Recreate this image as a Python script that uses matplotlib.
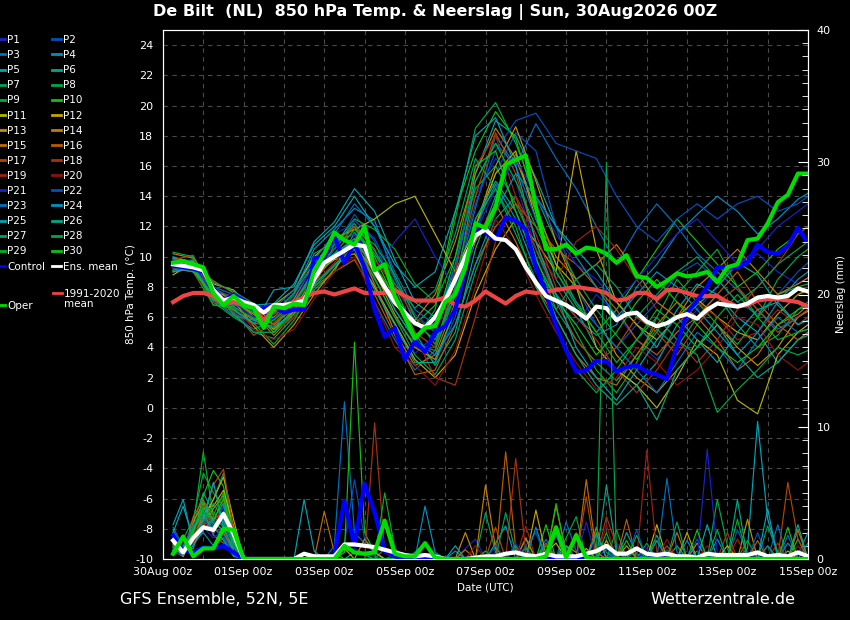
import numpy as np
import matplotlib
matplotlib.use('Agg')
import matplotlib.pyplot as plt
from matplotlib.lines import Line2D
from matplotlib.ticker import MultipleLocator

plt.rcParams['axes.unicode_minus'] = False

# run 30Aug2026 00Z, 6-hourly steps +6h .. +384h
hours = np.arange(6, 385, 6)
days = hours / 24.0
p_hours = np.append(np.arange(6, 379, 12), 384)
p_days = p_hours / 24.0

x_ticks = [0, 2, 4, 6, 8, 10, 12, 14, 16]
x_labels = ['30Aug 00z', '01Sep 00z', '03Sep 00z', '05Sep 00z', '07Sep 00z',
            '09Sep 00z', '11Sep 00z', '13Sep 00z', '15Sep 00z']

# 850 hPa temperature (C)
oper_t = [9.6, 9.7, 9.5, 9.3, 7.6, 6.8, 7.4, 6.8,
          6.6, 5.3, 6.7, 6.6, 6.9, 6.8, 9.1, 10.2,
          11.6, 11.1, 10.8, 12.0, 9.1, 9.5, 7.4, 6.0,
          4.6, 5.3, 5.4, 7.0, 7.5, 9.3, 12.2, 11.9,
          13.3, 16.1, 16.4, 16.7, 13.3, 10.5, 10.5, 10.8,
          10.2, 10.6, 10.5, 10.2, 9.6, 10.1, 8.7, 8.6,
          8.0, 8.4, 8.9, 8.7, 8.8, 9.0, 8.3, 9.3,
          9.5, 11.1, 11.2, 12.2, 13.6, 14.1, 15.5, 15.5]
control_t = [9.4, 9.3, 9.2, 9.0, 7.9, 7.1, 7.5, 7.1,
             6.5, 6.6, 6.8, 6.3, 6.5, 6.5, 9.9, 9.9,
             11.4, 9.6, 10.9, 9.3, 6.5, 4.7, 5.3, 3.2,
             4.4, 3.7, 5.0, 5.4, 6.5, 9.1, 11.8, 11.6,
             11.1, 12.6, 12.4, 11.8, 9.3, 7.6, 5.4, 3.8,
             2.4, 2.5, 3.1, 3.1, 2.4, 2.7, 2.8, 2.4,
             2.2, 1.9, 4.1, 6.3, 7.1, 8.0, 9.3, 9.3,
             9.3, 9.6, 10.8, 10.3, 10.2, 10.7, 11.9, 10.9]
ens_mean_t = [9.5, 9.4, 9.3, 9.1, 7.8, 7.1, 7.3, 7.0,
              6.8, 6.3, 6.8, 6.8, 6.9, 7.1, 8.5, 9.6,
              10.0, 10.4, 10.8, 10.7, 9.1, 8.0, 7.0, 6.3,
              5.6, 5.3, 6.0, 7.1, 8.5, 10.0, 11.4, 11.8,
              11.2, 11.1, 10.5, 9.3, 8.3, 7.4, 7.1, 6.8,
              6.4, 5.9, 6.7, 6.6, 5.8, 6.2, 6.3, 5.7,
              5.4, 5.6, 6.0, 6.2, 5.9, 6.5, 6.9, 6.8,
              6.7, 6.9, 7.3, 7.4, 7.3, 7.4, 7.9, 7.7]
clim_t = [7.0, 7.4, 7.6, 7.6, 7.4, 6.9, 7.0, 6.9,
          6.6, 5.8, 6.5, 6.8, 7.0, 7.3, 7.6, 7.7,
          7.5, 7.7, 7.9, 7.6, 7.6, 7.6, 7.8, 7.4,
          7.1, 7.1, 7.1, 7.3, 6.8, 6.7, 7.1, 7.7,
          7.3, 6.9, 7.4, 7.7, 7.6, 7.7, 7.8, 7.9,
          8.0, 7.9, 7.8, 7.6, 7.1, 7.2, 7.6, 7.6,
          7.2, 7.8, 7.8, 7.6, 7.4, 7.4, 7.4, 7.0,
          6.7, 6.8, 7.1, 7.2, 7.2, 7.1, 7.0, 6.7]

# precipitation (mm)
oper_p = [0.4, 1.7, 0.2, 0.8, 0.8, 2.3, 2.2, 0,
          0, 0, 0, 0, 0, 0, 0, 0,
          0, 1.0, 0.5, 0.4, 0.5, 2.9, 0.4, 0.2,
          0.2, 1.2, 0.1, 0, 0, 0, 0, 0,
          0, 0, 0, 0, 0, 0.2, 2.4, 0.1,
          1.8, 0.1, 0, 0, 0, 0, 0, 0,
          0, 0, 0, 0, 0, 0, 0, 0,
          0, 0, 0, 0, 0, 0, 0, 0]
control_p = [1.8, 0.6, 0.5, 0.9, 0.8, 1.0, 0.5, 0,
             0, 0, 0, 0, 0, 0, 0, 0,
             0.3, 4.4, 1.0, 5.7, 3.5, 0.6, 0.2, 0,
             0, 0, 0, 0, 0, 0, 0, 0,
             0, 0, 0, 0, 0, 0, 0, 0,
             0, 0, 0, 0, 0, 0, 0, 0,
             0.2, 0, 0, 0, 0, 0, 0, 0,
             0, 0, 0, 0, 0, 0, 0, 0]
ens_mean_p = [1.4, 0.5, 1.6, 2.4, 2.2, 3.4, 1.9, 0.0,
              0, 0, 0, 0, 0, 0.4, 0.2, 0.2,
              0.2, 1.1, 1.1, 1.0, 0.9, 0.7, 0.5, 0.3,
              0.2, 0.3, 0.2, 0, 0, 0, 0.1, 0.2,
              0.2, 0.4, 0.5, 0.3, 0.2, 0.4, 0.2, 0.2,
              0.2, 0.4, 0.6, 1.0, 0.4, 0.4, 0.8, 0.4,
              0.3, 0.4, 0.2, 0.2, 0.1, 0.4, 0.3, 0.3,
              0.3, 0.3, 0.5, 0.2, 0.3, 0.2, 0.5, 0.2]

# perturbation temperatures, P1..P30 (12-hourly)
pert_t = [
    [9.6, 9.4, 7.2, 6.8, 6.0, 5.6, 6.8, 9.8, 11.5, 12.2, 8.0, 5.0, 3.6, 4.8, 9.5, 14.0, 16.5, 15.0, 10.5, 7.0, 5.5, 7.5, 6.2, 4.5, 3.2, 5.0, 6.5, 8.0, 9.5, 10.2, 9.0, 8.2, 8.6],
    [9.8, 9.2, 7.6, 7.0, 6.6, 6.0, 7.2, 8.6, 10.5, 12.8, 11.0, 7.5, 4.2, 3.0, 6.0, 11.5, 15.5, 18.2, 17.0, 12.0, 8.0, 5.5, 4.0, 5.5, 7.0, 8.8, 9.6, 8.5, 7.0, 6.2, 7.5, 9.0, 9.6],
    [9.2, 9.0, 8.0, 7.5, 5.8, 5.2, 6.5, 8.2, 9.5, 10.5, 7.0, 4.5, 2.5, 3.8, 8.0, 13.2, 18.0, 16.0, 18.8, 16.5, 14.5, 12.0, 9.5, 11.8, 13.5, 12.0, 10.2, 9.0, 7.8, 6.5, 5.2, 6.0, 6.5],
    [10.0, 9.6, 7.4, 7.2, 6.4, 6.2, 7.6, 10.5, 11.8, 13.2, 12.4, 8.6, 5.6, 4.5, 7.4, 12.0, 14.8, 12.5, 9.0, 7.5, 6.0, 4.8, 5.5, 8.0, 9.5, 11.5, 12.8, 14.0, 13.0, 11.5, 12.5, 13.8, 14.2],
    [9.0, 9.4, 7.0, 6.5, 5.5, 7.8, 8.0, 11.0, 12.3, 14.5, 13.0, 9.8, 7.0, 6.0, 9.0, 15.5, 19.0, 18.0, 15.2, 12.0, 10.5, 9.0, 7.0, 5.5, 4.0, 6.5, 8.2, 7.5, 6.0, 5.0, 3.0, 4.5, 5.0],
    [9.4, 9.1, 7.8, 6.2, 5.0, 4.6, 6.0, 7.8, 9.0, 11.6, 10.2, 8.0, 5.0, 2.8, 5.0, 10.5, 14.0, 16.8, 13.0, 8.5, 6.5, 4.0, 2.5, 1.5, 3.0, 5.5, 6.8, 8.0, 9.6, 8.8, 6.8, 5.5, 6.0],
    [9.7, 9.5, 7.5, 7.0, 6.8, 6.5, 7.0, 9.0, 10.2, 11.0, 8.5, 6.0, 3.5, 2.2, 4.5, 9.0, 12.5, 14.0, 10.0, 6.5, 4.5, 3.0, 1.8, 3.5, 5.2, 4.0, 6.0, 7.5, 5.5, 4.0, 4.8, 6.5, 7.0],
    [9.1, 9.8, 7.0, 6.0, 5.2, 5.8, 7.5, 10.2, 11.0, 12.0, 9.5, 6.5, 4.5, 6.5, 12.5, 18.5, 20.2, 17.5, 14.0, 11.0, 8.5, 6.5, 4.8, 3.2, 5.0, 7.5, 9.0, 10.5, 8.0, 6.0, 8.5, 10.0, 10.5],
    [9.3, 9.0, 6.8, 6.6, 5.6, 4.2, 5.8, 8.0, 10.8, 12.5, 11.8, 10.5, 8.2, 7.0, 10.0, 14.5, 16.0, 13.5, 10.5, 7.5, 5.0, 2.5, 1.0, 3.0, 6.0, 8.5, 7.0, 5.5, 4.2, 6.0, 7.5, 8.0, 8.2],
    [9.5, 9.2, 7.2, 7.0, 6.2, 5.5, 6.8, 9.2, 10.5, 12.0, 10.0, 7.2, 5.5, 6.8, 13.0, 17.0, 19.6, 17.8, 13.5, 9.5, 7.0, 5.0, 6.5, 8.5, 10.5, 12.5, 11.0, 9.5, 8.0, 9.0, 10.5, 11.5, 12.0],
    [8.8, 9.6, 8.2, 7.8, 6.5, 6.8, 7.8, 10.0, 11.2, 11.8, 12.5, 13.5, 14.0, 11.5, 9.0, 12.0, 15.5, 17.0, 12.5, 9.5, 8.0, 4.0, 2.5, 1.5, 0.0, 2.0, 4.5, 3.5, 0.5, -0.4, 3.5, 5.0, 5.5],
    [9.9, 9.7, 7.6, 7.4, 6.0, 5.2, 6.4, 8.8, 9.8, 10.2, 8.0, 5.6, 3.2, 2.0, 3.5, 7.5, 10.5, 12.5, 11.0, 9.0, 17.0, 10.5, 7.0, 5.5, 4.5, 6.0, 7.2, 6.0, 5.0, 4.5, 6.2, 7.5, 7.8],
    [9.6, 9.3, 7.8, 7.1, 5.4, 4.0, 5.5, 7.5, 9.2, 10.8, 9.0, 6.2, 4.0, 3.2, 6.5, 12.0, 16.0, 18.6, 15.0, 11.0, 8.0, 6.0, 3.5, 2.0, 1.0, 2.5, 4.0, 5.5, 4.0, 2.8, 4.0, 6.0, 6.4],
    [10.2, 9.9, 7.0, 6.7, 5.8, 6.0, 7.2, 9.6, 11.0, 11.5, 8.8, 6.8, 5.8, 7.5, 11.0, 15.5, 18.5, 16.5, 13.0, 10.0, 8.5, 9.5, 10.8, 9.0, 7.0, 6.0, 8.0, 9.2, 10.5, 9.0, 7.5, 8.2, 8.6],
    [9.0, 9.2, 7.5, 6.9, 6.2, 4.8, 6.2, 8.4, 10.0, 11.2, 8.2, 5.0, 2.8, 3.5, 7.0, 11.0, 13.5, 11.0, 8.0, 6.0, 3.5, 2.0, 1.5, 3.5, 5.5, 7.0, 6.0, 4.5, 2.5, 3.5, 5.5, 6.2, 6.8],
    [9.3, 9.5, 8.4, 7.6, 6.8, 5.5, 6.6, 8.0, 9.0, 9.8, 7.5, 4.8, 2.2, 2.5, 5.5, 9.5, 12.0, 13.5, 12.0, 10.5, 9.5, 8.0, 6.5, 4.5, 3.5, 5.0, 6.0, 7.5, 9.0, 7.0, 5.5, 4.5, 5.0],
    [9.8, 10.1, 7.3, 6.4, 4.8, 5.6, 7.0, 9.0, 10.5, 12.0, 10.5, 7.5, 5.0, 4.0, 8.5, 14.0, 18.2, 15.5, 11.0, 7.0, 4.5, 3.0, 4.0, 6.0, 5.0, 3.5, 5.5, 7.0, 8.0, 6.5, 5.0, 6.0, 6.5],
    [9.5, 9.0, 7.1, 6.3, 5.5, 6.2, 6.8, 8.8, 10.0, 10.8, 9.5, 7.0, 4.8, 2.0, 1.5, 6.0, 11.0, 14.0, 11.5, 8.0, 6.0, 4.5, 2.5, 1.0, 2.5, 4.5, 3.0, 4.5, 6.5, 8.0, 9.5, 11.5, 12.0],
    [9.2, 9.4, 7.9, 7.3, 6.6, 5.0, 6.0, 8.2, 9.6, 11.0, 9.8, 8.0, 6.0, 5.0, 9.0, 16.0, 18.0, 14.0, 10.5, 8.5, 11.0, 12.0, 10.5, 8.5, 6.5, 5.5, 7.0, 6.0, 4.5, 5.0, 6.5, 5.5, 6.0],
    [9.7, 9.2, 7.0, 6.8, 5.2, 4.5, 5.2, 7.2, 9.0, 10.0, 7.0, 4.0, 2.8, 1.5, 3.8, 8.0, 12.5, 10.5, 7.5, 5.0, 3.0, 1.2, 2.0, 4.0, 3.0, 1.5, 2.5, 4.0, 6.0, 5.5, 3.5, 2.5, 3.0],
    [9.4, 9.6, 7.4, 7.0, 6.0, 5.9, 7.4, 9.4, 10.8, 11.5, 9.0, 11.0, 12.5, 10.0, 8.0, 11.5, 14.5, 16.5, 14.0, 11.5, 9.5, 8.5, 7.0, 8.5, 10.0, 11.5, 12.5, 11.0, 9.5, 10.5, 12.0, 13.0, 13.5],
    [9.1, 9.3, 7.7, 6.5, 5.0, 5.0, 6.6, 8.6, 10.5, 12.4, 11.2, 8.5, 6.2, 5.0, 8.5, 13.5, 17.0, 19.0, 19.5, 17.5, 17.0, 16.5, 14.0, 12.0, 11.0, 12.5, 13.5, 12.5, 13.5, 14.0, 13.0, 13.5, 14.0],
    [9.6, 9.8, 7.9, 7.2, 6.4, 6.6, 7.8, 9.8, 11.5, 13.5, 12.0, 9.0, 6.5, 5.5, 9.5, 15.0, 17.5, 16.0, 12.5, 9.0, 7.0, 5.5, 4.0, 2.5, 1.0, 3.0, 5.0, 4.0, 2.5, 4.5, 6.0, 5.0, 5.2],
    [9.9, 9.4, 7.2, 6.1, 5.8, 5.3, 6.9, 9.2, 10.2, 11.2, 9.2, 6.5, 4.5, 3.5, 5.5, 9.5, 13.0, 15.5, 14.0, 12.0, 10.0, 8.0, 6.0, 7.5, 9.0, 8.0, 6.5, 5.0, 3.5, 5.0, 7.0, 8.5, 9.0],
    [9.0, 9.3, 7.1, 6.8, 6.8, 6.9, 8.2, 10.8, 12.0, 14.0, 12.0, 9.5, 8.0, 9.0, 13.0, 18.0, 19.2, 16.0, 11.0, 7.5, 4.0, 2.0, 0.5, 2.5, 4.5, 6.0, 4.5, 3.0, 5.0, 6.5, 7.0, 5.5, 5.8],
    [9.3, 9.0, 7.5, 6.5, 5.6, 5.4, 6.2, 8.2, 9.4, 10.5, 7.8, 5.5, 3.0, 3.0, 6.5, 12.5, 15.0, 13.0, 9.5, 6.0, 3.5, 1.5, 0.2, 1.5, -0.8, 2.5, 4.0, 5.5, 3.5, 2.0, 3.0, 4.5, 4.8],
    [9.7, 9.6, 8.3, 7.7, 6.9, 6.3, 7.6, 9.6, 10.8, 12.2, 10.4, 8.2, 6.6, 7.8, 11.5, 16.5, 14.5, 11.5, 8.5, 6.5, 8.5, 9.5, 8.0, 6.0, 7.5, 9.0, 10.0, 8.5, 7.0, 8.0, 9.5, 10.5, 11.0],
    [10.3, 10.0, 7.8, 6.2, 5.0, 5.0, 6.3, 8.0, 9.4, 11.0, 8.6, 6.0, 4.2, 3.8, 7.5, 12.5, 14.5, 12.0, 8.0, 5.5, 2.5, 1.0, 2.5, 4.5, 6.0, 4.5, 3.5, -0.3, 1.2, 2.5, 4.0, 3.5, 3.8],
    [9.1, 9.5, 6.8, 6.7, 5.9, 5.8, 7.0, 8.8, 10.2, 11.8, 10.8, 8.8, 6.0, 4.2, 8.0, 15.0, 17.5, 15.0, 12.0, 9.0, 6.8, 5.0, 3.0, 4.5, 6.5, 5.5, 4.0, 6.0, 7.5, 6.0, 4.5, 5.0, 5.2],
    [9.5, 9.1, 7.3, 7.0, 6.3, 5.0, 6.6, 8.6, 10.0, 11.0, 9.4, 7.4, 5.5, 5.5, 10.0, 16.0, 17.0, 13.0, 9.8, 7.2, 5.5, 3.5, 5.0, 7.0, 8.5, 7.0, 5.5, 4.0, 3.0, 4.0, 5.5, 6.5, 6.8],
]

# perturbation precipitation, P1..P30 (6-hourly)
pert_p = [
    [1.0, 0.4, 1.5, 2.8, 2.0, 3.0, 1.2, 0,  0, 0, 0, 0, 0, 0, 0, 0,  0, 0.5, 0.8, 0.4, 0.2, 0, 0, 0,  0, 0, 0, 0, 0, 0.8, 1.5, 0,  0.5, 0, 0, 0, 0, 0, 0, 0.6,  0, 0, 0, 0, 1.2, 0.4, 0.3, 0,  0, 0, 0, 0.6, 0, 0, 0, 0,  0, 0, 0, 1.0, 0, 0, 0, 0],
    [0.8, 0.3, 1.0, 3.2, 1.8, 4.0, 0.5, 0,  0, 0, 0, 0, 0, 0, 0, 0,  0, 1.2, 6.0, 1.5, 0.6, 0, 0, 0,  0, 0, 0, 0, 0, 0, 0, 0,  0, 0, 0, 1.0, 2.0, 0, 0, 0,  0, 0, 0, 0.8, 0, 0, 0, 0,  0, 0.7, 0, 0, 1.5, 0.3, 0, 0,  2.2, 0.5, 0, 0, 0, 0, 0, 0],
    [1.5, 0.2, 2.2, 4.0, 3.0, 2.0, 0.6, 0,  0, 0, 0, 0, 0, 0, 0, 0,  1.0, 11.9, 2.0, 1.2, 0.5, 0, 0.3, 0,  0, 0, 0, 0, 0, 0, 0, 0,  0, 0, 0, 0, 0, 1.5, 0, 2.8,  0.6, 0, 0.5, 0, 0, 0, 0, 0,  0, 0, 0, 0, 0, 0, 0, 0,  0, 0, 0, 0, 0, 1.8, 0, 0],
    [2.2, 0.6, 1.2, 2.0, 1.0, 1.6, 0.3, 0,  0, 0, 0, 0, 0, 0, 0, 0,  0, 0, 0, 0, 0, 0.8, 0, 0,  0, 0, 0, 0, 0.6, 0, 0, 0,  0, 0, 0, 0, 0, 0, 0, 0,  0, 0, 1.8, 0.5, 0, 0, 0, 0,  0, 0, 0, 0, 0, 0, 1.5, 0,  0, 0, 0, 0, 0, 1.2, 0.3, 2.0],
    [2.6, 4.5, 1.2, 3.6, 2.5, 1.4, 0.2, 0,  0, 0, 0, 0, 0, 4.5, 0.6, 0,  0, 0, 0.5, 0.3, 0, 0, 0, 0,  0, 0, 0, 0, 0, 0, 0, 0,  1.2, 2.5, 0, 0, 0, 0, 0, 0,  0, 0, 0, 0, 0, 2.0, 0.4, 0,  0, 0, 0, 0, 0, 0, 0, 0,  0, 0.8, 10.4, 3.0, 0.5, 0, 0, 0],
    [0.6, 0.2, 2.6, 5.0, 3.5, 2.8, 1.0, 0,  0, 0, 0, 0, 0, 0, 0, 0,  0, 0, 0, 0, 0, 0, 0, 0,  0.5, 1.2, 0, 0, 0, 0, 0, 0,  0, 0, 0, 0, 0, 0, 2.0, 0,  0, 0, 0, 5.6, 0.5, 0, 0, 0,  1.8, 0, 0, 0, 0.6, 0, 0, 0,  0, 0, 0, 0, 0, 0, 0, 0],
    [1.8, 0.8, 0.8, 3.2, 4.5, 6.5, 1.5, 0,  0, 0, 0, 0, 0, 0, 0, 0,  0, 0, 0, 0, 0, 0, 0, 0,  0, 0, 0, 0, 0, 0, 0, 3.5,  0.5, 0, 0, 1.5, 0, 0, 0, 0,  0, 0, 0, 0, 0, 0, 0, 1.2,  0, 0, 0, 0, 0, 0, 0, 0,  0, 0, 0, 2.5, 0.5, 0, 0, 0],
    [1.2, 1.5, 3.0, 6.5, 5.0, 4.0, 2.0, 0,  0, 0, 0, 0, 0, 0, 0, 0,  0, 0, 0, 0, 0, 0, 0, 0,  0, 0, 0, 0, 0, 0, 0, 0,  0, 0, 0, 0, 0, 0, 0, 1.6,  3.2, 0, 0, 0, 0, 0, 0.8, 0,  0, 0, 0, 0, 0, 0, 4.5, 1.0,  0, 0, 0, 0, 0, 0, 0, 0],
    [0.4, 0.9, 2.5, 8.1, 3.2, 2.4, 0.8, 0,  0, 0, 0, 0, 0, 0, 0, 0,  0, 0, 0, 0, 0, 0, 0, 0,  0, 0, 0, 0, 0, 0, 0, 0,  0, 0, 1.0, 0, 0, 0, 0, 0,  0, 0, 0, 0, 2.2, 0, 0, 0,  0, 0, 0, 0, 0, 0, 0, 0,  0, 1.4, 0, 0, 0, 0, 0, 0],
    [0.3, 1.0, 1.8, 4.8, 6.7, 5.5, 1.8, 0,  0, 0, 0, 0, 0, 0, 0, 0,  0, 0.5, 16.4, 2.0, 0.5, 0, 0, 0,  0, 0, 0, 0, 0, 0, 0, 0.6,  0, 0, 0, 0, 0, 2.6, 0, 0,  0, 0, 0, 0, 0, 0, 0, 0,  0, 0, 1.0, 0, 0, 0, 0, 0,  0, 0, 0, 0, 0, 0, 1.5, 0],
    [0.9, 0.3, 1.4, 3.8, 4.0, 5.2, 2.5, 0,  0, 0, 0, 0, 0, 0, 0, 0,  0, 0, 0, 0, 0, 0, 0, 0,  0, 0, 0, 0, 0, 0, 0, 0,  0, 0, 0, 0, 0, 0.5, 1.2, 0,  0, 0.8, 0, 0, 0, 0, 0, 0,  2.6, 0, 0, 0, 0, 0, 0, 1.0,  0, 0, 0, 0, 0, 0, 0, 0],
    [1.1, 0.2, 2.0, 3.0, 4.5, 6.2, 3.0, 0,  0, 0, 0, 0, 0, 0.3, 0, 0,  0, 0.8, 0, 0, 0, 0, 0, 0,  0, 0, 0, 0, 0, 0, 0, 0,  0, 0, 0, 0, 3.7, 0.3, 0, 0,  0, 0, 0, 1.4, 0, 0, 0, 0,  0, 0, 0, 2.0, 0, 0, 0, 0,  0, 0, 0, 0, 0, 0.6, 0, 0],
    [1.4, 0.5, 1.0, 2.5, 3.8, 4.8, 1.2, 0,  0, 0, 0, 0, 0, 0, 0, 0,  0, 0, 0, 1.5, 0.5, 0, 0, 0,  0, 0, 0, 0, 0, 2.0, 0, 0,  0, 0, 0, 0, 0, 0, 0, 1.0,  0.5, 0, 0, 0, 0, 1.0, 0, 0,  0, 0, 0, 0, 0, 0, 0, 0,  0, 3.0, 0, 0, 0, 0, 0, 0],
    [1.3, 0.4, 2.8, 4.2, 3.0, 3.5, 0.9, 0,  0, 0, 0, 0, 0, 0, 0, 0,  0, 0, 0, 0, 0, 0, 0, 0,  0, 0, 0, 0, 0, 0, 0, 5.6,  0.8, 0, 0, 1.6, 0, 0, 0, 0,  0, 0, 2.4, 0, 0, 0, 0, 0,  0, 0, 0, 0, 1.2, 0, 0, 0,  0, 0, 0, 0, 0, 0, 0, 0],
    [1.7, 0.7, 1.6, 3.4, 2.2, 2.0, 0.5, 0,  0, 0, 0, 0, 0, 0, 0, 3.6,  0.5, 0, 0, 0, 0, 0, 0, 0,  0, 0, 0, 0, 0, 0.7, 0, 0,  0, 0, 0, 0, 0, 0, 4.0, 0.5,  0, 6.0, 0.5, 0, 0, 0, 0, 0,  0, 0, 2.0, 0, 0, 0, 0, 0,  0, 0, 0, 0, 0, 0, 2.2, 0],
    [2.0, 0.3, 3.2, 4.5, 1.8, 1.2, 0.4, 0,  0, 0, 0, 0, 0, 0, 0, 0,  0, 0, 0, 0, 0, 0, 0, 0,  0, 0, 0, 0, 0, 0, 0, 0,  0, 8.1, 0.8, 0, 0, 1.2, 0, 0,  0, 0, 0, 0, 0, 3.0, 0, 0,  0, 0, 0, 0, 0, 0, 0, 0,  0, 0, 1.4, 0, 0, 0, 0, 0],
    [0.7, 0.6, 2.4, 3.3, 5.6, 6.8, 2.2, 0,  0, 0, 0, 0, 0, 0, 0, 0,  0, 0, 0, 0, 0, 0, 0, 0,  0, 0, 0, 0, 0, 0, 0, 0,  2.4, 0, 0, 0, 0, 0, 0, 0,  0, 4.7, 0, 0, 0, 0, 0, 0,  0, 1.0, 0, 0, 0, 0, 0, 0,  0, 0, 0, 0, 0, 5.8, 1.5, 0],
    [1.6, 1.2, 1.2, 3.0, 2.0, 4.5, 1.0, 0,  0, 0, 0, 0, 0, 0, 0, 0,  0, 0, 0, 0, 10.3, 0.5, 0, 0,  0, 0, 0, 0, 0, 0, 0, 0,  0, 0, 7.6, 0.5, 0, 0, 0, 0,  0, 0, 0, 3.2, 1.0, 0, 0, 0,  0, 0, 0, 0, 0, 0, 0, 2.0,  0, 0, 0, 0, 1.2, 0, 0, 0],
    [1.9, 0.5, 2.0, 2.6, 3.5, 2.5, 0.6, 0,  0, 0, 0, 0, 0, 0, 0, 0,  0, 0, 0, 0, 0, 0, 0, 0,  0, 0, 0, 0, 0, 0, 0, 0,  0, 0, 0, 2.5, 0, 0, 0, 0,  2.0, 0, 0, 0, 0, 0, 0, 8.2,  0.5, 0, 0, 0, 0, 0, 0, 0,  1.5, 0, 0, 0, 0, 0, 0, 0],
    [1.0, 0.4, 1.8, 3.6, 2.6, 3.2, 0.7, 0,  0, 0, 0, 0, 0, 0, 0, 0,  0, 0, 0, 0, 0, 0, 0, 0,  0, 0, 0, 0, 0, 0, 1.0, 0,  0, 0, 0, 0, 0, 0, 0, 0,  0, 0, 0, 2.6, 0, 0, 0, 0,  0, 1.5, 0, 0, 0, 1.0, 0, 0,  0, 0, 0, 0, 0, 0, 1.0, 0],
    [1.5, 0.6, 1.4, 2.4, 1.6, 2.2, 0.8, 0,  0, 0, 0, 0, 0, 0, 0, 0,  0, 0, 0, 0, 0, 0, 0, 0,  0, 0, 0, 0, 0, 0, 0, 0,  0, 0, 1.2, 0, 0, 0, 0, 0,  0, 2.8, 0, 0, 0, 0, 0, 0.8,  0, 0, 0, 0, 0, 8.3, 0.5, 0,  0, 0, 0, 0, 0, 0, 0, 0],
    [0.5, 0.3, 1.6, 3.0, 2.4, 1.8, 0.4, 0,  0, 0, 0, 0, 0, 0, 0, 0,  0, 0, 0, 0, 0, 0, 0, 0,  0, 0, 0, 0, 0, 0, 0, 0,  1.0, 0, 0, 0, 0, 0, 0, 0,  0, 0, 0, 0, 0, 0, 2.2, 0,  0, 0, 0, 0, 0, 0, 0, 0,  0, 0, 2.0, 0, 0, 0, 0, 0],
    [2.4, 0.9, 2.6, 3.8, 2.8, 2.6, 1.1, 0,  0, 0, 0, 0, 0, 0, 0, 0,  0, 0, 0, 0, 0, 0, 0, 0,  0, 0, 0, 0, 0, 0, 0, 0,  0, 0, 0, 0, 0, 0, 1.8, 0,  0, 0, 0, 0, 0.6, 0, 0, 0,  0, 6.1, 0.5, 0, 0, 0, 0, 0,  0, 0, 0, 0, 2.6, 0, 0, 0],
    [1.2, 0.5, 1.0, 2.2, 3.0, 4.2, 0.6, 0,  0, 0, 0, 0, 0, 0, 0, 0,  0, 0, 0, 0, 0, 0, 0, 0,  0, 4.0, 0.5, 0, 0, 0, 0, 0,  0, 0, 0, 0, 2.4, 0, 0, 0,  0, 0, 0, 0, 0, 0, 0, 0,  0, 0, 0, 1.4, 0, 0, 0, 0,  0, 0, 0, 0, 0, 0, 0, 1.2],
    [2.0, 4.0, 1.5, 3.0, 5.8, 2.4, 0.6, 0,  0, 0, 0, 0, 0, 0, 0, 0,  0, 0, 0, 0, 0, 0, 0, 0,  0, 0, 0, 0, 1.0, 0, 0, 0,  0, 0, 0, 0, 0, 0, 0, 0,  0, 0, 2.0, 0, 0, 0, 0, 0,  0, 0, 0, 0, 0, 2.6, 0, 0,  0, 0, 0, 3.8, 0, 0, 0, 0],
    [0.6, 0.8, 2.2, 3.4, 2.0, 3.6, 1.4, 0,  0, 0, 0, 0, 0, 0, 0, 0,  0, 0, 0, 0, 0, 0, 0, 0,  0, 0, 0, 0, 0, 0, 0, 0,  0, 0, 0, 0, 0, 0, 0, 1.0,  0, 0, 0, 0, 0, 0, 0, 0,  1.4, 0, 0, 0, 0, 0, 0, 0,  4.5, 0, 0, 0, 0, 0, 2.6, 0],
    [1.0, 0.7, 1.7, 2.8, 4.2, 3.0, 1.2, 0,  0, 0, 0, 0, 0, 0, 0, 0,  0, 0, 0, 0, 0, 0, 0, 0,  0, 0, 0, 0, 0, 0, 0, 0,  0, 3.5, 0.5, 0, 0, 0, 0, 0,  1.6, 0, 0, 0, 0, 0, 0, 0,  0, 0, 2.8, 0, 0, 0, 0, 0,  0, 0, 0, 1.0, 0, 0, 0, 0],
    [1.3, 0.4, 2.4, 3.6, 2.7, 2.2, 0.9, 0,  0, 0, 0, 0, 0, 0, 0, 0,  0, 0, 0, 0, 0, 0, 0, 0,  0, 0, 0, 0, 0, 0, 0, 0,  0, 0, 0, 0.8, 0, 0, 0, 0,  0, 0, 0, 30.0, 0, 0, 1.8, 0,  0, 0, 0, 0, 0, 0, 2.2, 0,  0, 0, 0, 0, 0, 0, 0, 0],
    [0.9, 0.6, 1.9, 4.4, 3.3, 5.0, 1.6, 0,  0, 0, 0, 0, 0, 0, 0, 0,  0, 0, 0, 0, 0, 5.0, 0.8, 0,  0, 0, 0, 0, 0, 0, 0, 0,  0, 0, 0, 0, 0, 1.0, 0, 0,  0, 0, 0, 2.0, 0, 0, 0, 0,  0, 0, 0, 0, 0, 0, 0, 0,  3.0, 0, 0, 0, 0, 0, 0, 0],
    [0.7, 0.5, 2.1, 3.9, 2.9, 4.6, 1.3, 0,  0, 0, 0, 0, 0, 0, 0, 0,  0, 0, 0, 0, 0, 0, 0, 0,  0, 0, 0, 0, 0, 0, 0, 0,  0, 0, 0, 0, 0, 0, 4.2, 0.3,  0, 0, 0, 0, 0, 1.4, 0, 0,  0, 0, 0, 0, 2.2, 0, 0, 0,  0, 0, 0, 0, 0, 2.4, 0, 0],
]

# P1..P20 colours, P21..P30 repeat the first ten
base_colors = ['#1a22c8', '#0050c0', '#0070c0', '#0090c0', '#00a4b4',
               '#00a88a', '#00a060', '#00a844', '#00b028', '#10c010',
               '#b4b400', '#c4a400', '#c49000', '#c47c00', '#c06c00',
               '#b85c00', '#b04400', '#a83010', '#a02010', '#901010']
member_colors = base_colors + base_colors[:10]

fig = plt.figure(figsize=(8.5, 6.2), dpi=100, facecolor='black')
ax = fig.add_axes([163 / 850, 61 / 620, 645 / 850, 529 / 620])
ax.set_facecolor('black')
ax2 = ax.twinx()

for i in range(30):
    ax.plot(p_days, pert_t[i], color=member_colors[i], lw=0.85, zorder=2)
    ax2.plot(days, pert_p[i], color=member_colors[i], lw=0.85, zorder=2)

ax.plot(days, clim_t, color='#ee4444', lw=3, zorder=3)
ax.plot(days, control_t, color='#0000ff', lw=3, zorder=4)
ax.plot(days, ens_mean_t, color='white', lw=3, zorder=5)
ax.plot(days, oper_t, color='#00dd00', lw=3, zorder=6)
ax2.plot(days, control_p, color='#0000ff', lw=3, zorder=4)
ax2.plot(days, ens_mean_p, color='white', lw=3, zorder=5)
ax2.plot(days, oper_p, color='#00dd00', lw=3, zorder=6)

ax.set_xlim(0, 16)
ax.set_ylim(-10, 25)
ax2.set_ylim(0, 40)
ax.set_xticks(x_ticks)
ax.set_xticklabels(x_labels)
ax.xaxis.set_minor_locator(MultipleLocator(1))
ax.set_yticks(np.arange(-10, 25, 2))
ax2.set_yticks([0, 10, 20, 30, 40])
ax2.yaxis.set_minor_locator(MultipleLocator(1))

ax.grid(True, which='both', axis='x', color='#4a4a4a', ls=(0, (4, 4)), lw=0.8)
ax.grid(True, which='major', axis='y', color='#4a4a4a', ls=(0, (4, 4)), lw=0.8)
ax.set_axisbelow(True)

for a in (ax, ax2):
    for s in a.spines.values():
        s.set_color('white')
ax.tick_params(axis='both', which='both', colors='white', labelsize=8, direction='in')
ax.tick_params(axis='x', which='both', length=0, pad=6)
ax.tick_params(axis='y', which='major', length=0, pad=7)
ax2.tick_params(axis='y', which='major', colors='white', labelsize=8, direction='in', length=7, pad=6)
ax2.tick_params(axis='y', which='minor', colors='white', direction='in', length=4)

ax.set_ylabel('850 hPa Temp. (°C)', color='white', fontsize=7.5, labelpad=-0.5)
ax2.set_ylabel('Neerslag (mm)', color='white', fontsize=7.5, labelpad=4)
ax.set_xlabel('Date (UTC)', color='white', fontsize=7.5, labelpad=4)

fig.text(435 / 850, 1 - 12 / 620, 'De Bilt  (NL)  850 hPa Temp. & Neerslag | Sun, 30Aug2026 00Z',
         ha='center', va='center', color='white', fontsize=11.5, weight='bold')
fig.text(120 / 850, 1 - 599 / 620, 'GFS Ensemble, 52N, 5E', ha='left', va='center',
         color='white', fontsize=11.5)
fig.text(650 / 850, 1 - 599 / 620, 'Wetterzentrale.de', ha='left', va='center',
         color='white', fontsize=11.5)

# legend: two columns filled column by column; climate mean and Oper sit apart below
col1 = [Line2D([], [], color=member_colors[i], lw=2) for i in range(0, 30, 2)]
col2 = [Line2D([], [], color=member_colors[i], lw=2) for i in range(1, 30, 2)]
lab1 = ['P%d' % (i + 1) for i in range(0, 30, 2)]
lab2 = ['P%d' % (i + 1) for i in range(1, 30, 2)]
col1 += [Line2D([], [], color='#0000ff', lw=2)]
lab1 += ['Control']
col2 += [Line2D([], [], color='white', lw=2)]
lab2 += ['Ens. mean']
leg_kw = dict(loc='upper left', frameon=False, fontsize=7.5, labelcolor='white',
              handlelength=0.9, handletextpad=0.15, borderpad=0, borderaxespad=0)
fig.legend(col1 + col2, lab1 + lab2, ncol=2, bbox_to_anchor=(-4 / 850, 1 - 35 / 620),
           columnspacing=0.66, labelspacing=0.49, **leg_kw)
fig.legend([Line2D([], [], color='#ee4444', lw=2)], ['1991-2020'],
           bbox_to_anchor=(52.5 / 850, 1 - 289 / 620), **leg_kw)
fig.text(64 / 850, 1 - 304 / 620, 'mean', ha='left', va='center', color='white', fontsize=7.5)
fig.legend([Line2D([], [], color='#00dd00', lw=2)], ['Oper'],
           bbox_to_anchor=(-4 / 850, 1 - 301 / 620), **leg_kw)

fig.savefig('out.png', dpi=100, facecolor='black')
